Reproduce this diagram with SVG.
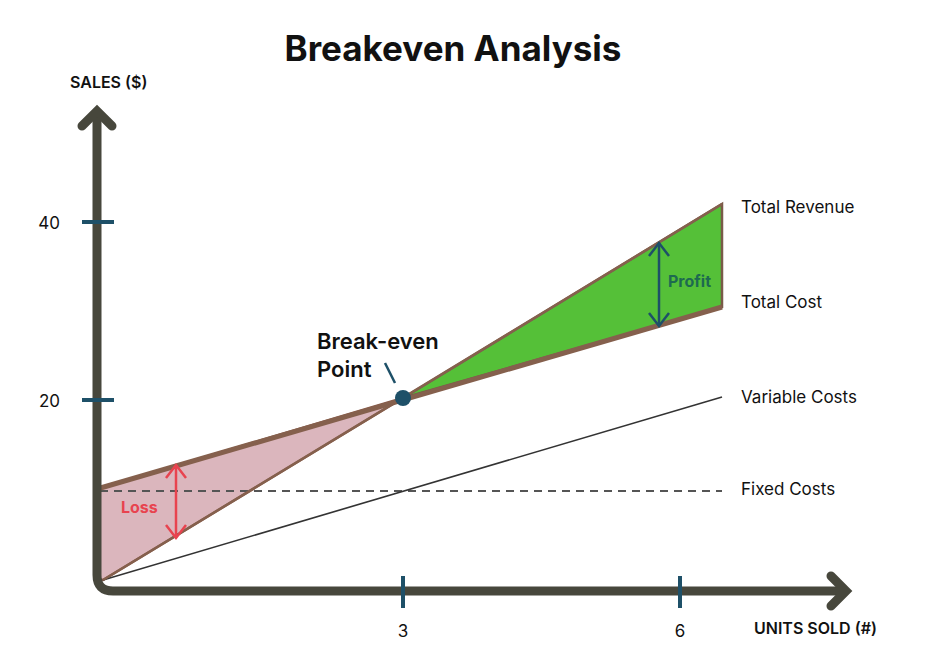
<svg xmlns="http://www.w3.org/2000/svg" width="947" height="667" viewBox="0 0 947 667">
<style>
text{font-family:Inter,"Liberation Sans",sans-serif;fill:#111}
.lbl{font-size:17px}
.tick{stroke:#1e5068;stroke-width:4}
.ax{fill:none;stroke:#47473c;stroke-width:9;stroke-linecap:round;stroke-linejoin:miter}
</style>
<rect width="947" height="667" fill="#fff"/>
<text x="453" y="61" text-anchor="middle" font-size="35" font-weight="bold" fill="#000">Breakeven Analysis</text>
<g id="areas">
<path d="M97,489 L403,398 L103,580 Q97,580 97,570 Z" fill="#dbb6bd" stroke="#8a5a4a" stroke-width="2.5"/>
<path d="M403,398 L722,204 L722,307 Z" fill="#55c038" stroke="#7a5a48" stroke-width="2.5"/>
</g>
<g id="connectors">
<line x1="100" y1="491" x2="722" y2="491" stroke="#555" stroke-width="1.8" stroke-dasharray="8,6"/>
<line x1="103" y1="580" x2="722" y2="397" stroke="#333" stroke-width="1.6"/>
<line x1="97" y1="489" x2="722" y2="307" stroke="#85604d" stroke-width="5"/>
<line x1="103" y1="580" x2="722" y2="204" stroke="#85604d" stroke-width="2.5"/>
<path d="M97,115 V575 Q97,591 113,591 H842" class="ax"/>
<path d="M82,126 L97,111 L112,126" class="ax"/>
<path d="M831,576 L846,591 L831,606" class="ax"/>
<line x1="82" y1="222" x2="114" y2="222" class="tick"/>
<line x1="82" y1="400" x2="114" y2="400" class="tick"/>
<line x1="403" y1="576" x2="403" y2="608" class="tick"/>
<line x1="680" y1="576" x2="680" y2="608" class="tick"/>
<g stroke="#e8434f" stroke-width="2.5" fill="none">
<line x1="176" y1="466" x2="176" y2="538"/>
<path d="M166,478 L176,465 L186,478 M166,525 L176,538 L186,525"/>
</g>
<g stroke="#1e5068" stroke-width="2.5" fill="none">
<line x1="659" y1="243" x2="659" y2="326"/>
<path d="M649,256 L659,243 L669,256 M649,313 L659,326 L669,313"/>
</g>
<line x1="385" y1="363" x2="395" y2="383" stroke="#1e5068" stroke-width="2.5"/>
</g>
<g id="breakeven"><circle cx="403" cy="398" r="8" fill="#1e5068"/>
<text x="317" y="349" font-size="22" font-weight="600">Break-even</text>
<text x="317" y="377" font-size="22" font-weight="600">Point</text></g>
<g id="labels">
<text x="70" y="88" font-size="16" font-weight="600">SALES ($)</text>
<text x="754" y="634" font-size="16" font-weight="600">UNITS SOLD (#)</text>
<text x="60" y="229" class="lbl" text-anchor="end">40</text>
<text x="60" y="407" class="lbl" text-anchor="end">20</text>
<text x="403" y="637" class="lbl" text-anchor="middle">3</text>
<text x="680" y="637" class="lbl" text-anchor="middle">6</text>
<text x="741" y="213" class="lbl">Total Revenue</text>
<text x="741" y="308" class="lbl">Total Cost</text>
<text x="741" y="403" class="lbl">Variable Costs</text>
<text x="741" y="495" class="lbl">Fixed Costs</text>
<text x="121" y="513" font-size="16" font-weight="bold" style="fill:#e8434f">Loss</text>
<text x="668" y="287" font-size="16" font-weight="bold" style="fill:#1e6a50">Profit</text>
</g>
</svg>
